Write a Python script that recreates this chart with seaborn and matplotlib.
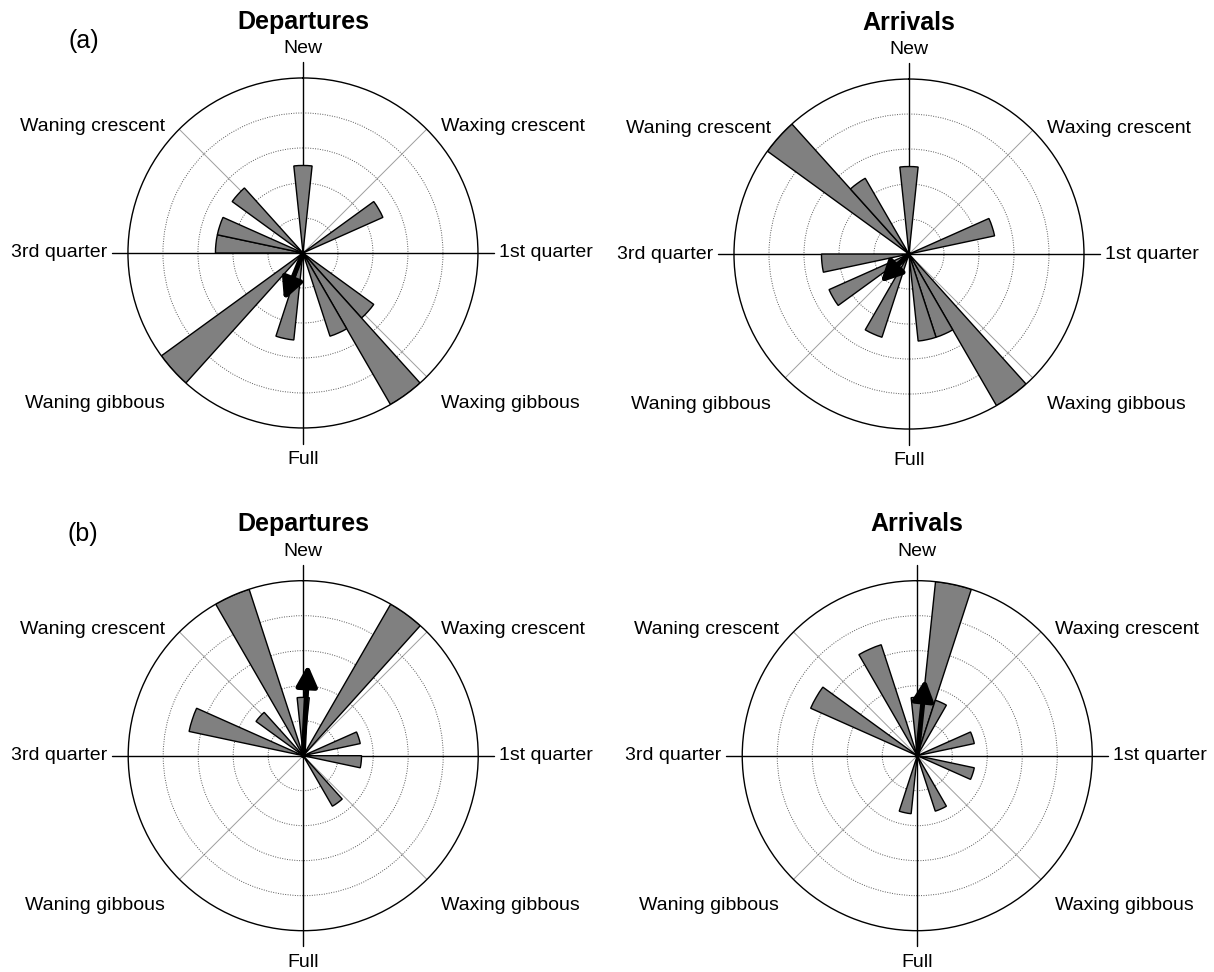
import numpy as np
import pandas as pd
import matplotlib
matplotlib.use("Agg")
import matplotlib.pyplot as plt
import seaborn as sns

# Lunar-cycle rose diagrams: 30 lunar-day bins of 12 degrees,
# 0 deg = new moon, running clockwise through the phases.
BIN_WIDTH_DEG = 12

dep_a_angles = [0, 60, 132, 144, 156, 192, 228, 276, 288, 312]
dep_a_counts = [1, 1, 1, 2, 1, 1, 2, 1, 1, 1]
arr_a_angles = [0, 72, 144, 156, 168, 204, 240, 264, 312, 324]
arr_a_counts = [1, 1, 2, 1, 1, 1, 1, 1, 2, 1]
dep_b_angles = [0, 36, 72, 96, 144, 288, 312, 336]
dep_b_counts = [1, 3, 1, 1, 1, 2, 1, 3]
arr_b_angles = [0, 12, 24, 72, 108, 156, 192, 300, 336]
arr_b_counts = [1, 3, 1, 1, 1, 1, 1, 2, 2]

# Mean vector per panel: direction (deg) and length (fraction of outer ring)
mean_dir = {("a", "Departures"): 202, ("a", "Arrivals"): 225,
            ("b", "Departures"): 3, ("b", "Arrivals"): 6}
mean_len = {("a", "Departures"): 0.29, ("a", "Arrivals"): 0.23,
            ("b", "Departures"): 0.52, ("b", "Arrivals"): 0.44}

# Outer ring value for each row of panels
ring_max = {"a": 2, "b": 3}

phase_labels = ["New", "Waxing crescent", "1st quarter", "Waxing gibbous",
                "Full", "Waning gibbous", "3rd quarter", "Waning crescent"]

frames = []
for panel, mov, ang, cnt in [("a", "Departures", dep_a_angles, dep_a_counts),
                             ("a", "Arrivals", arr_a_angles, arr_a_counts),
                             ("b", "Departures", dep_b_angles, dep_b_counts),
                             ("b", "Arrivals", arr_b_angles, arr_b_counts)]:
    frames.append(pd.DataFrame({"panel": panel, "movement": mov,
                                "angle": ang, "count": cnt}))
df = pd.concat(frames, ignore_index=True)

sns.set_theme(style="white")
plt.rcParams["font.family"] = ["Liberation Sans", "DejaVu Sans"]
plt.rcParams["text.color"] = "black"

BAR_GRAY = "#808080"


def draw_rose(angle, count, **kws):
    ax = plt.gca()
    ax.bar(np.radians(np.asarray(angle, dtype=float)), count,
           width=np.radians(BIN_WIDTH_DEG), color=BAR_GRAY,
           edgecolor="black", linewidth=1.0, zorder=2)


g = sns.FacetGrid(df, row="panel", col="movement",
                  col_order=["Departures", "Arrivals"], row_order=["a", "b"],
                  subplot_kws={"projection": "polar"}, sharex=False,
                  sharey=False, despine=False, height=4, aspect=1)
g.map(draw_rose, "angle", "count")
g.set_axis_labels("", "")
g.set_titles("")

fig = g.figure
fig.set_size_inches(12.14, 9.72)

# axes boxes (left, bottom, width, height) in figure fraction
W, H = 350 / 1214, 350 / 972
boxes = {("a", "Departures"): (0.1054, 0.5597, W, H),
         ("a", "Arrivals"): (0.6046, 0.5586, W, H),
         ("b", "Departures"): (0.1056, 0.0425, W, H),
         ("b", "Arrivals"): (0.6114, 0.0425, W, H)}

# label anchor points in axes fraction, with alignment
label_pos = [((0.5, 1.084), "center"), ((0.894, 0.86), "left"),
             ((1.06, 0.5), "left"), ((0.894, 0.071), "left"),
             ((0.5, -0.09), "center"), ((0.106, 0.071), "right"),
             ((-0.06, 0.5), "right"), ((0.106, 0.86), "right")]

for (panel, mov), ax in g.axes_dict.items():
    rmax = ring_max[panel]
    ax.set_position(boxes[(panel, mov)])
    ax.set_theta_zero_location("N")
    ax.set_theta_direction(-1)
    ax.set_ylim(0, rmax)
    ax.set_title("")
    ax.set_xlabel("")
    ax.set_ylabel("")

    ax.set_yticks(rmax * np.arange(1, 5) / 5)
    ax.set_yticklabels([])
    ax.set_xticks(np.radians([45, 135, 225, 315]))
    ax.set_xticklabels([])
    ax.grid(False)
    ax.yaxis.grid(True, linestyle=(0, (1, 1.5)), color="0.35", linewidth=0.7)
    ax.xaxis.grid(True, linestyle="-", color="0.62", linewidth=0.7)
    ax.set_axisbelow(True)
    ax.spines["polar"].set_color("black")
    ax.spines["polar"].set_linewidth(1.0)
    ax.set_facecolor("white")

    # cross through the centre, reaching past the outer ring
    for th in (0, 90, 180, 270):
        ax.plot([np.radians(th)] * 2, [0, 1.09 * rmax], color="black",
                linewidth=1.0, clip_on=False, zorder=1.5)

    # mean vector arrow
    ax.annotate("", xy=(np.radians(mean_dir[(panel, mov)]),
                        mean_len[(panel, mov)] * rmax),
                xytext=(0, 0),
                arrowprops=dict(arrowstyle="-|>,head_length=0.7,head_width=0.35",
                                color="black", lw=3.6, shrinkA=0, shrinkB=0,
                                mutation_scale=18, joinstyle="round",
                                capstyle="round"),
                zorder=5)

    for text, ((x, y), ha) in zip(phase_labels, label_pos):
        ax.text(x, y, text, transform=ax.transAxes, ha=ha, va="center",
                fontsize=14, color="black")
    ax.text(0.5, 1.161, mov, transform=ax.transAxes, ha="center",
            va="center", fontsize=18, fontweight="bold", color="black")

fig.text(0.069, 0.958, "(a)", ha="center", va="center", fontsize=18,
         color="black")
fig.text(0.068, 0.451, "(b)", ha="center", va="center", fontsize=18,
         color="black")

fig.savefig("out.png", dpi=100, facecolor="white")
